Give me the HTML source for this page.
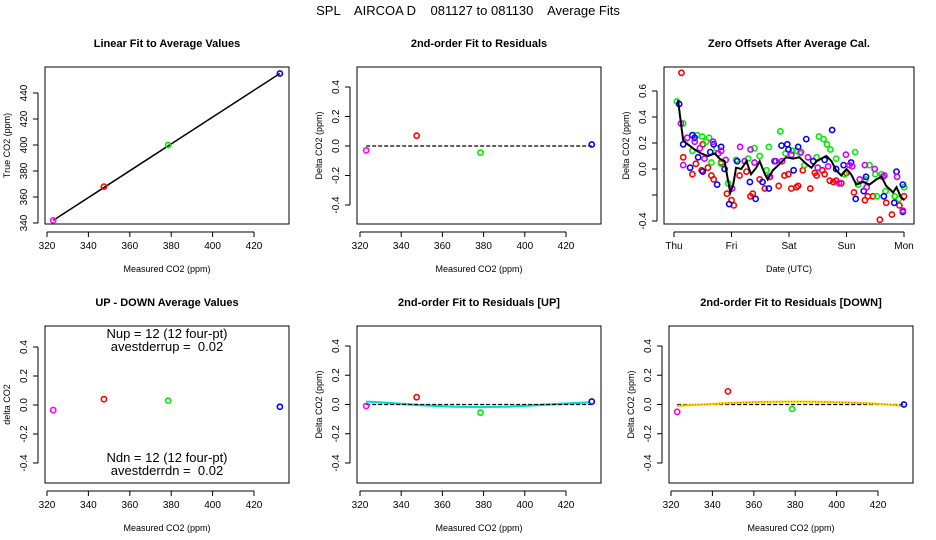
<!DOCTYPE html>
<html><head><meta charset="utf-8"><style>
body{margin:0;background:#fff}
svg{display:block;font-family:"Liberation Sans",sans-serif}
</style></head><body>
<svg id="s" width="936" height="540"></svg>
<script>
// ---- data ----
const calX=[323,347.5,378.5,432.5];
const calColors=['#ff00ff','#ff0000','#00ee00','#0000ff'];
const p1Y=[342,368,400,455];
const p2Y=[-0.03,0.07,-0.045,0.01];
const p4Y=[-0.035,0.04,0.03,-0.012];
const p5Y=[-0.01,0.05,-0.055,0.02];
const p6Y=[-0.05,0.09,-0.03,0.0];
const p5FitX=[323,335,350,365,378,392,405,418,432];
const p5FitY=[0.02,0.01,-0.005,-0.015,-0.017,-0.015,-0.005,0.005,0.015];
const p6FitX=[323,335,350,365,380,395,410,422,432];
const p6FitY=[-0.01,0.0,0.012,0.018,0.02,0.018,0.012,0.003,-0.01];
const lineD=[0.07,0.13,0.16,0.24,0.36,0.47,0.59,0.71,0.79,0.88,0.94,0.98,1.03,1.08,1.17,1.26,1.34,1.43,1.49,1.58,1.63,1.72,1.84,1.95,2.07,2.18,2.30,2.39,2.48,2.56,2.65,2.74,2.82,2.91,3.00,3.08,3.17,3.29,3.40,3.52,3.61,3.69,3.81,3.87,3.95,4.01];
const lineV=[0.53,0.32,0.22,0.19,0.15,0.12,0.10,0.12,0.08,0.06,-0.09,-0.18,-0.12,0.01,0,0.06,-0.04,0.01,0.06,-0.04,-0.08,-0.01,0.04,0.09,0.08,0.09,0.04,0.01,0.06,0.08,0.10,0.06,-0.01,-0.05,0,-0.04,-0.12,-0.10,-0.12,-0.08,-0.06,-0.13,-0.18,-0.14,-0.22,-0.24];
const redD=[0.13,0.16,0.32,0.38,0.48,0.50,0.59,0.65,0.69,0.82,0.92,1.00,1.04,1.14,1.26,1.33,1.37,1.49,1.58,1.66,1.82,1.92,1.99,2.04,2.13,2.16,2.24,2.37,2.45,2.48,2.58,2.62,2.71,2.77,2.82,2.91,3.00,3.13,3.32,3.37,3.46,3.58,3.69,3.79,3.92,4.00];
const redV=[0.74,0.09,-0.04,0.04,-0.01,0.19,0.01,-0.05,-0.08,0.05,-0.19,-0.24,-0.28,-0.05,-0.02,-0.21,-0.19,-0.08,-0.15,-0.06,-0.13,-0.05,-0.04,-0.15,-0.14,-0.13,-0.01,-0.15,-0.03,-0.05,-0.01,-0.04,-0.09,-0.10,-0.09,-0.11,-0.03,-0.18,-0.24,-0.21,-0.21,-0.39,-0.26,-0.35,-0.28,-0.21];
const greenD=[0.05,0.16,0.32,0.40,0.49,0.56,0.61,0.65,0.74,0.82,0.94,1.08,1.29,1.40,1.49,1.61,1.65,1.85,1.94,2.06,2.13,2.19,2.27,2.48,2.52,2.60,2.66,2.72,2.82,2.97,3.15,3.20,3.33,3.40,3.50,3.53,3.61,3.68,3.84,3.91,4.00];
const greenV=[0.52,0.35,0.14,0.26,0.25,0.21,0.24,0.05,0.16,0.04,-0.11,0.07,0.08,0.16,0.10,-0.01,0.17,0.29,0.12,0.14,0.14,0.12,0.03,0.09,0.25,0.23,0.19,0.15,0.08,-0.04,0.13,-0.12,-0.08,0.03,-0.04,-0.21,-0.04,-0.17,-0.21,-0.23,-0.14];
const blueD=[0.09,0.16,0.28,0.32,0.36,0.42,0.50,0.63,0.69,0.75,0.82,0.88,0.96,1.10,1.32,1.42,1.54,1.65,1.75,1.87,1.97,1.99,2.08,2.16,2.30,2.42,2.62,2.75,2.82,2.95,3.08,3.16,3.30,3.34,3.65,3.83,3.87,3.98,3.98];
const blueV=[0.50,0.19,0.01,0.26,0.24,0.09,-0.02,0.13,0.19,-0.12,0.17,0,-0.27,0.06,-0.10,-0.23,-0.10,-0.15,0.06,0.18,0.19,0.15,-0.01,0.17,0.23,0.06,0.07,0.30,0,0.03,0.05,-0.23,-0.17,-0.06,-0.21,-0.26,-0.02,-0.33,-0.12];
const purpD=[0.12,0.16,0.23,0.36,0.45,0.53,0.68,0.77,0.82,0.90,1.01,1.15,1.23,1.33,1.40,1.67,1.77,1.88,2.04,2.21,2.33,2.50,2.68,2.87,2.99,3.05,3.10,3.23,3.32,3.35,3.49,3.63,3.66,3.88,3.98];
const purpV=[0.35,0.03,0.24,0.21,0.16,0.08,0.21,0.12,0.14,0.07,-0.15,0.17,0.06,0.15,0.05,-0.06,0.06,0.06,0.11,0.13,0.09,0.01,0.02,-0.11,0.11,0.03,0.02,-0.08,0.03,-0.14,0,-0.06,-0.05,-0.06,-0.32];
const dayLabels=['Thu','Fri','Sat','Sun','Mon'];
const co2Ticks=[320,340,360,380,400,420];
const deltaTicks=[-0.4,-0.2,0.0,0.2,0.4];

const S=document.getElementById('s');
const NS='http://www.w3.org/2000/svg';
function el(tag,attrs,parent,txt){const e=document.createElementNS(NS,tag);for(const k in attrs)e.setAttribute(k,attrs[k]);if(txt!==undefined)e.textContent=txt;(parent||S).appendChild(e);return e;}
function lin(d0,d1,p0,p1){return v=>p0+(v-d0)*(p1-p0)/(d1-d0);}

function txt(x,y,s,opt,g){const t=el('text',Object.assign({x:x,y:y,'font-size':10,'text-anchor':'middle',fill:'#000'},opt||{}),g,s);return t;}

const title=txt(468,15,'SPL    AIRCOA D    081127 to 081130    Average Fits',{'font-size':13,'xml:space':'preserve',style:'white-space:pre'});



function panel(name,box,xs,ys,xticks,xlabels,yticks,ylabels,ttl,xt,yt){
  const g=el('g',{},S);
  
  
  const [L,T,R,B]=box;
  const fr=el('rect',{x:L,y:T,width:R-L,height:B-T,fill:'none',stroke:'#000','stroke-width':1},g);
  
  
  const t=txt((L+R)/2,T-20,ttl,{'font-size':11,'font-weight':'bold'},g);
  
  
  el('line',{x1:xs(xticks[0]),x2:xs(xticks[xticks.length-1]),y1:B+8,y2:B+8,stroke:'#000'},g);
  xticks.forEach((v,i)=>{el('line',{x1:xs(v),x2:xs(v),y1:B+8,y2:B+13,stroke:'#000'},g);
    const l=txt(xs(v),B+25,xlabels[i],{},g);
    
    });
  el('line',{x1:L-7,x2:L-7,y1:ys(yticks[0]),y2:ys(yticks[yticks.length-1]),stroke:'#000'},g);
  yticks.forEach((v,i)=>{el('line',{x1:L-7,x2:L-12,y1:ys(v),y2:ys(v),stroke:'#000'},g);
    const l=txt(L-18,ys(v),ylabels[i],{transform:`rotate(-90 ${L-18} ${ys(v)})`},g);
    
    });
  const a=txt((L+R)/2,B+48,xt,{'font-size':9},g);
  
  
  const ycx=L-35,ycy=(T+B)/2;
  const b=txt(ycx,ycy,yt,{'font-size':9,transform:`rotate(-90 ${ycx} ${ycy})`},g);
  
  
  return g;
}
function pt(g,x,y,c){const p=el('circle',{cx:x,cy:y,r:2.6,fill:'none',stroke:c,'stroke-width':1.6},g);
  
  }
function poly(g,xs,ys,X,Y,attrs){const pts=X.map((v,i)=>xs(v)+','+ys(Y[i])).join(' ');
  const p=el('polyline',Object.assign({points:pts,fill:'none'},attrs),g);return p;}

const co2L=co2Ticks.map(String);
const dL=['-0.4','-0.2','0.0','0.2','0.4'];

// Panel 1
{const xs=lin(320,420,47,254),ys=lin(340,440,223,93);
 const g=panel('linear-fit-panel',[45,67,289,224],xs,ys,co2Ticks,co2L,[340,360,380,400,420,440],['340','360','380','400','420','440'],'Linear Fit to Average Values','Measured CO2 (ppm)','True CO2 (ppm)');
 const l=poly(g,xs,ys,[calX[0],calX[3]],[p1Y[0],p1Y[3]],{stroke:'#000','stroke-width':1.5});
 
 
 calX.forEach((x,i)=>pt(g,xs(x),ys(p1Y[i]),calColors[i]));}
// Panel 2
{const xs=lin(320,420,360,566),ys=lin(-0.4,0.4,205,87);
 const g=panel('residuals-panel',[357,67,601,224],xs,ys,co2Ticks,co2L,deltaTicks,dL,'2nd-order Fit to Residuals','Measured CO2 (ppm)','Delta CO2 (ppm)');
 const l=poly(g,xs,ys,[323,432.5],[0,0],{stroke:'#000','stroke-width':1.3,'stroke-dasharray':'4 2'});
 
 
 calX.forEach((x,i)=>pt(g,xs(x),ys(p2Y[i]),calColors[i]));}
// Panel 3
{const xs=lin(0,4,674,904),ys=lin(-0.4,0.6,221,91);
 const g=panel('zero-offsets-panel',[664,67,914,224],xs,ys,[0,1,2,3,4],dayLabels,[-0.4,-0.2,0,0.2,0.4,0.6],['-0.4','','0.0','0.2','0.4','0.6'],'Zero Offsets After Average Cal.','Date (UTC)','Delta CO2 (ppm)');
 [[redD,redV,'#ff0000'],[greenD,greenV,'#00ee00'],[blueD,blueV,'#0000ff'],[purpD,purpV,'#cc00ff']].forEach(([D,V,c])=>D.forEach((d,i)=>pt(g,xs(d),ys(V[i]),c)));
 const l=poly(g,xs,ys,lineD,lineV,{stroke:'#000','stroke-width':2});
 
 }
// Panel 4
{const xs=lin(320,420,47,254),ys=lin(-0.4,0.4,463,347);
 const g=panel('up-down-panel',[45,326,289,483],xs,ys,co2Ticks,co2L,deltaTicks,dL,'UP - DOWN Average Values','Measured CO2 (ppm)','delta CO2');
 calX.forEach((x,i)=>pt(g,xs(x),ys(p4Y[i]),calColors[i]));
 [['Nup = 12 (12 four-pt)',338],['avestderrup =  0.02',351],['Ndn = 12 (12 four-pt)',462],['avestderrdn =  0.02',475]].forEach(([s,y])=>{
   const t=txt(167,y,s,{'font-size':13,'xml:space':'preserve',style:'white-space:pre'},g);
   
   });}
// Panel 5
{const xs=lin(320,420,360,566),ys=lin(-0.4,0.4,463,346);
 const g=panel('residuals-up-panel',[357,326,601,483],xs,ys,co2Ticks,co2L,deltaTicks,dL,'2nd-order Fit to Residuals [UP]','Measured CO2 (ppm)','Delta CO2 (ppm)');
 const c=poly(g,xs,ys,p5FitX,p5FitY,{stroke:'#00dddd','stroke-width':2.2});
 
 
 const l=poly(g,xs,ys,[323,432.5],[0,0],{stroke:'#000','stroke-width':1.3,'stroke-dasharray':'4 2'});
 
 
 calX.forEach((x,i)=>pt(g,xs(x),ys(p5Y[i]),calColors[i]));}
// Panel 6
{const xs=lin(320,420,671,878),ys=lin(-0.4,0.4,463,346);
 const g=panel('residuals-down-panel',[669,326,913,483],xs,ys,co2Ticks,co2L,deltaTicks,dL,'2nd-order Fit to Residuals [DOWN]','Measured CO2 (ppm)','Delta CO2 (ppm)');
 const l=poly(g,xs,ys,[323,432.5],[0,0],{stroke:'#000','stroke-width':1.3,'stroke-dasharray':'4 2'});
 
 
 const c=poly(g,xs,ys,p6FitX,p6FitY,{stroke:'#ffdd00','stroke-width':2.2});
 
 
 const c2=poly(g,xs,ys,p6FitX,p6FitY,{stroke:'#ff3300','stroke-width':1,'stroke-dasharray':'1 2'});
 
 
 calX.forEach((x,i)=>pt(g,xs(x),ys(p6Y[i]),calColors[i]));}
</script>
</body></html>
